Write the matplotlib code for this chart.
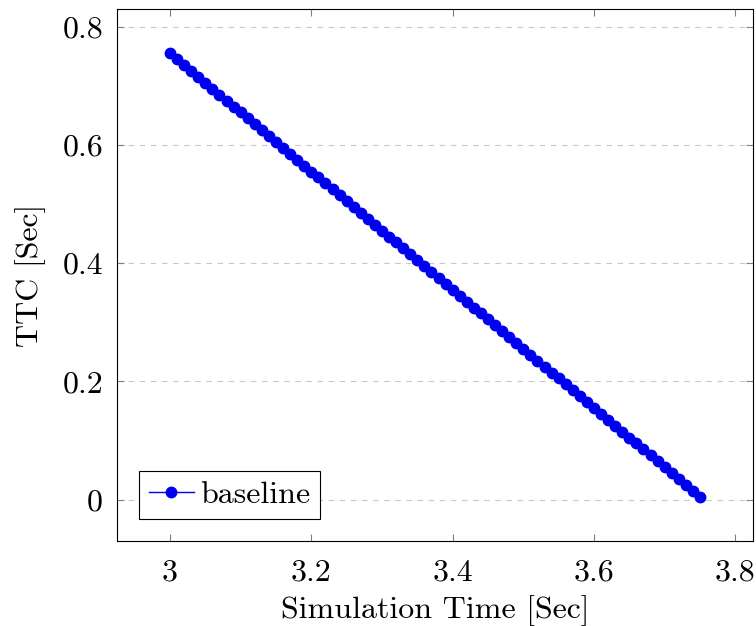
import matplotlib
matplotlib.use('Agg')
import matplotlib.pyplot as plt

plt.rcParams['font.family'] = ['cmr10', 'DejaVu Serif']
plt.rcParams['mathtext.fontset'] = 'cm'
plt.rcParams['axes.formatter.use_mathtext'] = True

sim_time = [3.00, 3.01, 3.02, 3.03, 3.04, 3.05, 3.06, 3.07, 3.08, 3.09,
            3.10, 3.11, 3.12, 3.13, 3.14, 3.15, 3.16, 3.17, 3.18, 3.19,
            3.20, 3.21, 3.22, 3.23, 3.24, 3.25, 3.26, 3.27, 3.28, 3.29,
            3.30, 3.31, 3.32, 3.33, 3.34, 3.35, 3.36, 3.37, 3.38, 3.39,
            3.40, 3.41, 3.42, 3.43, 3.44, 3.45, 3.46, 3.47, 3.48, 3.49,
            3.50, 3.51, 3.52, 3.53, 3.54, 3.55, 3.56, 3.57, 3.58, 3.59,
            3.60, 3.61, 3.62, 3.63, 3.64, 3.65, 3.66, 3.67, 3.68, 3.69,
            3.70, 3.71, 3.72, 3.73, 3.74, 3.75]
ttc = [0.755, 0.745, 0.735, 0.725, 0.715, 0.705, 0.695, 0.685, 0.675, 0.665,
       0.655, 0.645, 0.635, 0.625, 0.615, 0.605, 0.595, 0.585, 0.575, 0.565,
       0.555, 0.545, 0.535, 0.525, 0.515, 0.505, 0.495, 0.485, 0.475, 0.465,
       0.455, 0.445, 0.435, 0.425, 0.415, 0.405, 0.395, 0.385, 0.375, 0.365,
       0.355, 0.345, 0.335, 0.325, 0.315, 0.305, 0.295, 0.285, 0.275, 0.265,
       0.255, 0.245, 0.235, 0.225, 0.215, 0.205, 0.195, 0.185, 0.175, 0.165,
       0.155, 0.145, 0.135, 0.125, 0.115, 0.105, 0.095, 0.085, 0.075, 0.065,
       0.055, 0.045, 0.035, 0.025, 0.015, 0.005]
x_ticks = [3.0, 3.2, 3.4, 3.6, 3.8]
x_labels = ['3', '3.2', '3.4', '3.6', '3.8']
y_ticks = [0.0, 0.2, 0.4, 0.6, 0.8]
y_labels = ['0', '0.2', '0.4', '0.6', '0.8']

fig = plt.figure(figsize=(7.56, 6.26), dpi=100)
ax = fig.add_axes([0.1548, 0.1358, 0.8412, 0.8498])

ax.plot(sim_time, ttc, color='#0000f0', lw=1.0, marker='o', markersize=7.5,
        label='baseline', zorder=3)

ax.set_xlim(2.925, 3.825)
ax.set_ylim(-0.07, 0.83)
ax.set_xticks(x_ticks)
ax.set_xticklabels(x_labels)
ax.set_yticks(y_ticks)
ax.set_yticklabels(y_labels)
ax.tick_params(direction='in', length=5, width=0.8, color='#808080',
               top=True, right=True, labelsize=23)
ax.tick_params(axis='x', pad=13)
ax.tick_params(axis='y', pad=10)
ax.grid(True, axis='y', linestyle=(0, (5, 5)), color='#c8c8c8', lw=0.8)
ax.set_axisbelow(True)
for s in ax.spines.values():
    s.set_linewidth(0.8)

ax.set_xlabel('Simulation Time [Sec]', fontsize=23, labelpad=6)
ax.set_ylabel('TTC [Sec]', fontsize=23, labelpad=12)

leg = ax.legend(loc='lower left', fontsize=23, fancybox=False, framealpha=1,
                edgecolor='black', borderpad=0.3, handlelength=1.4,
                handletextpad=0.2, borderaxespad=0.7)
leg.get_frame().set_linewidth(0.8)

fig.savefig('out.png', dpi=100)
